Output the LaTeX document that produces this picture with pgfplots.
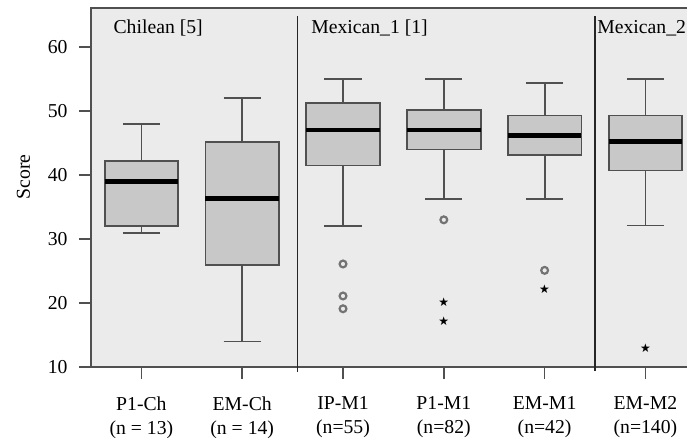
\documentclass[border=0pt]{standalone}
\usepackage{fontspec}
\setmainfont{Liberation Serif}
\newfontfamily\djv{DejaVu Sans}
\usepackage{pgfplots}
\pgfplotsset{compat=1.18}
\usepgfplotslibrary{statistics}
\usetikzlibrary{plotmarks}
\definecolor{bg}{HTML}{EBEBEB}
\definecolor{boxfill}{HTML}{C8C8C8}
\definecolor{edge}{HTML}{505050}
\newcommand{\lfont}{\fontsize{19.7}{24}\selectfont}
\begin{document}
\begin{tikzpicture}
\useasboundingbox (-91pt,-71pt) rectangle (596pt,367pt);
\clip (-91pt,-71pt) rectangle (596pt,367pt);
\begin{axis}[
  scale only axis, width=614.9pt, height=359pt,
  xmin=-0.5, xmax=5.6, ymin=10, ymax=66.1,
  axis background/.style={fill=bg},
  axis line style={draw=edge, line width=1.6pt},
  /pgf/number format/assume math mode=true,
  ytick={10,20,...,60},
  xtick={0,...,5},
  xticklabels={{P1-Ch\\(n = 13)},{EM-Ch\\(n = 14)},{IP-M1\\(n=55)},{P1-M1\\(n=82)},{EM-M1\\(n=42)},{EM-M2\\(n=140)}},
  xticklabel style={align=center, font=\lfont, yshift=-14pt},
  yticklabel style={font=\lfont, xshift=-8pt},
  tick align=outside, xtick pos=bottom, ytick pos=left,
  major tick length=12pt,
  tick style={draw=edge, line width=1.5pt},
  ylabel={Score},
  ylabel style={font=\lfont, at={(axis description cs:-0.11,0.53)}, anchor=center},
  boxplot/draw direction=y,
  boxplot/box extend=0.73,
  boxplot/whisker extend=0.37,
  boxplot/every median/.style={draw=black, line width=4.5pt},
  clip=false,
]
\addplot[draw=edge, fill=boxfill, line width=1.8pt, boxplot prepared={draw position=0, lower whisker=31, lower quartile=32, median=39, upper quartile=42.2, upper whisker=48}] coordinates {};
\addplot[draw=edge, fill=boxfill, line width=1.8pt, boxplot prepared={draw position=1, lower whisker=14, lower quartile=26, median=36.3, upper quartile=45.2, upper whisker=52}] coordinates {};
\addplot[draw=edge, fill=boxfill, line width=1.8pt, boxplot prepared={draw position=2, lower whisker=32, lower quartile=41.5, median=47, upper quartile=51.2, upper whisker=55}] coordinates {};
\addplot[draw=edge, fill=boxfill, line width=1.8pt, boxplot prepared={draw position=3, lower whisker=36.3, lower quartile=44, median=47, upper quartile=50.2, upper whisker=55}] coordinates {};
\addplot[draw=edge, fill=boxfill, line width=1.8pt, boxplot prepared={draw position=4, lower whisker=36.3, lower quartile=43.1, median=46.2, upper quartile=49.3, upper whisker=54.4}] coordinates {};
\addplot[draw=edge, fill=boxfill, line width=1.8pt, boxplot prepared={draw position=5, lower whisker=32.1, lower quartile=40.7, median=45.2, upper quartile=49.3, upper whisker=55}] coordinates {};
% outliers
\addplot[only marks, mark=o, mark size=3.4pt, draw=black!55, line width=2.2pt] coordinates {(2,26.1) (2,21.1) (2,19.1) (3,33) (4,25.1)};
\addplot[only marks, mark=text, text mark={\djv\fontsize{12}{12}\selectfont ★}, text mark as node=true, text mark style={black, inner sep=0pt, anchor=center}] coordinates {(3,20.2) (3,17.1) (4,22.1) (5,13)};
% separators
\addplot[black!85, line width=1.2pt] coordinates {(1.55,9.2) (1.55,64.8)};
\addplot[black!85, line width=1.2pt] coordinates {(4.5,9.4) (4.5,64.9)};
\node[anchor=base west, font=\lfont, inner sep=0pt] at (axis cs:-0.278,62.1) {Chilean [5]};
\node[anchor=base west, font=\lfont, inner sep=0pt] at (axis cs:1.683,62.1) {Mexican\_1 [1]};
\node[anchor=base west, font=\lfont, inner sep=0pt] at (axis cs:4.521,62.1) {Mexican\_2};
\end{axis}
\end{tikzpicture}
\end{document}
